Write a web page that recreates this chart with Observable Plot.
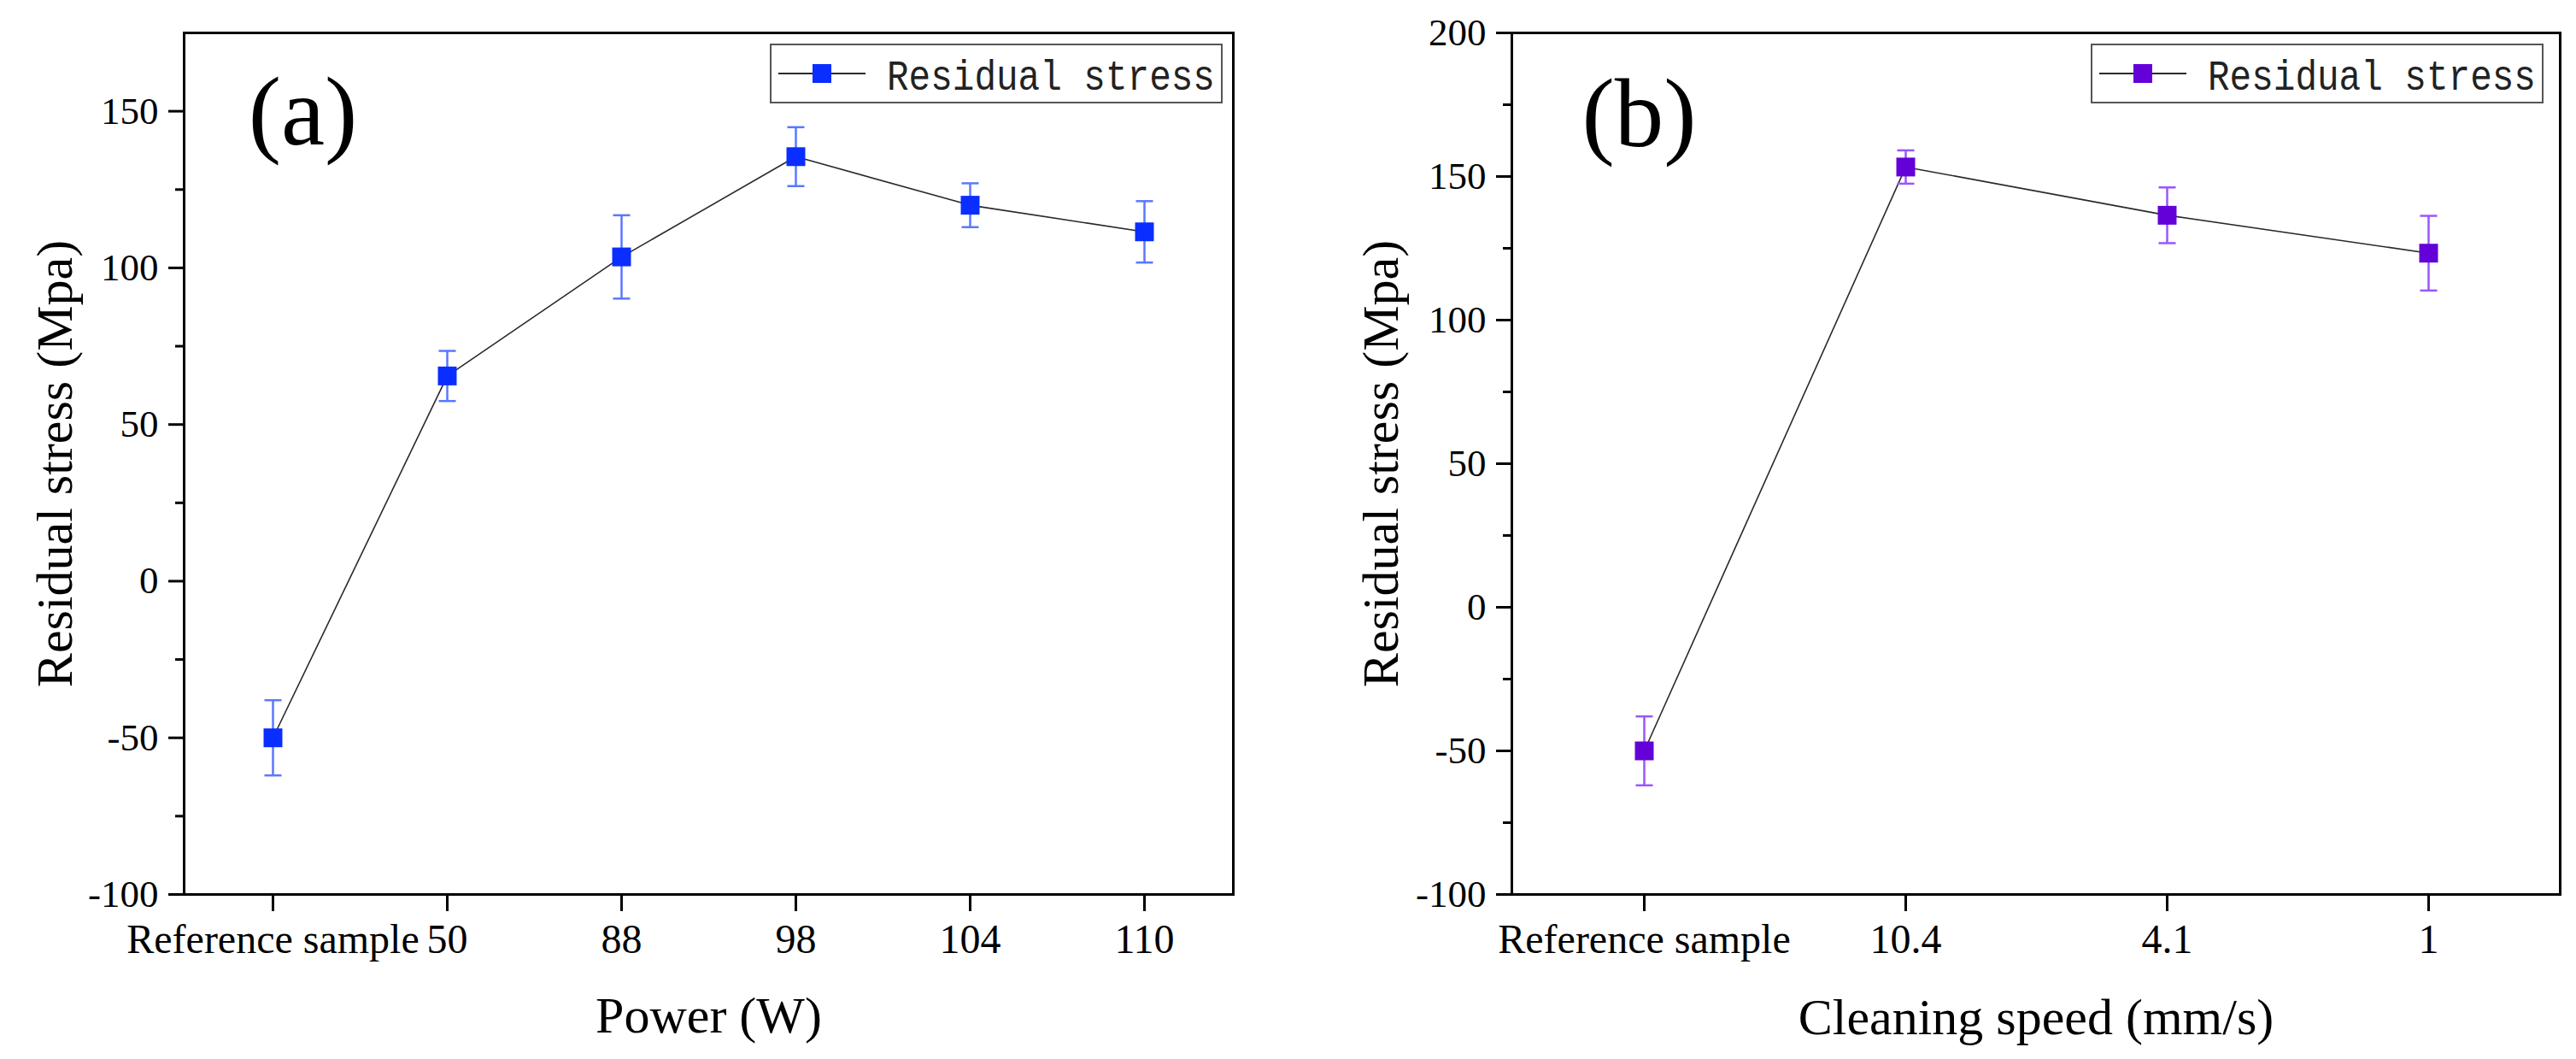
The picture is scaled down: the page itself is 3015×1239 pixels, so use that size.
<!DOCTYPE html>
<html><head><meta charset="utf-8">
<script src="https://cdn.jsdelivr.net/npm/d3@7"></script>
<script src="https://cdn.jsdelivr.net/npm/@observablehq/plot@0.6"></script>
<style>
body{margin:0;background:#fff;}
#wrap{position:relative;width:3015px;height:1239px;background:#fff;overflow:hidden;}
#wrap svg{position:absolute;top:0;}
</style></head><body><div id="wrap"></div>
<script>
// Panel (a): Power
const powerLabels = ["Reference sample", "50", "88", "98", "104", "110"];
const powerStress = [-50, 65.5, 103.5, 135.5, 120, 111.5];
const powerError  = [12, 8, 13.3, 9.4, 7, 9.8];
const powerYTicks = [-100, -50, 0, 50, 100, 150];
const powerYMinor = [-75, -25, 25, 75, 125];

// Panel (b): Cleaning speed
const speedLabels = ["Reference sample", "10.4", "4.1", "1"];
const speedStress = [-50, 153.3, 136.5, 123.3];
const speedError  = [12, 5.8, 9.7, 13];
const speedYTicks = [-100, -50, 0, 50, 100, 150, 200];
const speedYMinor = [-75, -25, 25, 75, 125, 175];

const yTitle = "Residual stress (Mpa)";
const legendText = "Residual stress";

const capSymbol = {
  draw(ctx, size) {
    const r = Math.sqrt(size / Math.PI);
    ctx.moveTo(-r, 0);
    ctx.lineTo(r, 0);
  }
};

function panel(o) {
  const data = o.labels.map((c, i) => ({c, v: o.values[i], lo: o.values[i] - o.errors[i], hi: o.values[i] + o.errors[i]}));
  const mt = 38, mb = 193, H = 1239;
  const chart = Plot.plot({
    width: o.width, height: H,
    marginLeft: o.ml, marginRight: o.mr, marginTop: mt, marginBottom: mb,
    style: {fontFamily: "Liberation Serif", background: "transparent", color: "#000", overflow: "visible"},
    x: {type: "point", domain: o.labels, padding: 0.5},
    y: {domain: o.yDomain},
    marks: [
      Plot.axisY(o.yTicks, {tickSize: 18, tickPadding: 12, strokeWidth: 3, fontSize: 45, label: null, tickFormat: d => String(d)}),
      Plot.axisY(o.yMinor, {tickSize: 10, strokeWidth: 3, tickFormat: () => "", label: null}),
      Plot.axisX({tickSize: 20, tickPadding: 14, strokeWidth: 3, fontSize: 48, label: null}),
      Plot.frame({stroke: "#000", strokeWidth: 3}),
      Plot.line(data, {x: "c", y: "v", stroke: "#2a2a2a", strokeWidth: 1.6}),
      Plot.ruleX(data, {x: "c", y1: "lo", y2: "hi", stroke: o.errColor, strokeWidth: 2.5}),
      Plot.dot(data, {x: "c", y: "lo", symbol: capSymbol, r: 10, fill: "none", stroke: o.errColor, strokeWidth: 2.5}),
      Plot.dot(data, {x: "c", y: "hi", symbol: capSymbol, r: 10, fill: "none", stroke: o.errColor, strokeWidth: 2.5}),
      Plot.dot(data, {x: "c", y: "v", symbol: "square", r: 12.4, fill: o.color, stroke: "none"}),
      Plot.text([o.xTitle], {frameAnchor: "bottom", dy: o.xTitleDy, text: d => d, fontSize: 60, lineAnchor: "bottom", textAnchor: "middle"}),
      Plot.text([yTitle], {frameAnchor: "left", dx: o.yTitleX - o.ml, rotate: -90, fontSize: 60, lineAnchor: "middle", textAnchor: "middle", text: d => d}),
      Plot.text([o.tag], {frameAnchor: "top-left", dx: o.tagX - o.ml, dy: o.tagBase - mt, fontSize: 115, lineAnchor: "bottom", textAnchor: "middle", text: d => d})
    ]
  });
  chart.style.left = o.left + "px";
  document.getElementById("wrap").appendChild(chart);
  // legend
  const svg = d3.select(chart);
  const g = svg.append("g").attr("text-anchor", "start");
  const L = o.legend;
  g.append("rect").attr("x", L.x0).attr("y", 52).attr("width", L.x1 - L.x0).attr("height", 68)
    .attr("fill", "#fff").attr("stroke", "#555").attr("stroke-width", 2);
  g.append("line").attr("x1", L.x0 + 9).attr("x2", L.x0 + 111).attr("y1", 86).attr("y2", 86)
    .attr("stroke", "#2a2a2a").attr("stroke-width", 2);
  g.append("rect").attr("x", L.x0 + 60 - 11).attr("y", 86 - 11).attr("width", 22).attr("height", 22).attr("fill", o.color);
  const t = g.append("text").attr("x", 0).attr("y", 0).attr("text-anchor", "start").attr("font-family", "Liberation Mono")
    .attr("font-size", 50).attr("fill", "#222").text(legendText);
  const w = t.node().getComputedTextLength() || 450;
  t.attr("transform", `translate(${L.x0 + 136},105) scale(${384 / w},1)`);
}

panel({
  labels: powerLabels, values: powerStress, errors: powerError,
  yDomain: [-100, 175], yTicks: powerYTicks, yMinor: powerYMinor,
  xTitle: "Power (W)", tag: "(a)", color: "#0a2eff", errColor: "#5a78ff",
  width: 1500, ml: 215, mr: 57, left: 0,
  xTitleDy: 161, yTitleX: 64, tagX: 354, tagBase: 168,
  legend: {x0: 902, x1: 1430}
});
panel({
  labels: speedLabels, values: speedStress, errors: speedError,
  yDomain: [-100, 200], yTicks: speedYTicks, yMinor: speedYMinor,
  xTitle: "Cleaning speed (mm/s)", tag: "(b)", color: "#6400d8", errColor: "#9a55ff",
  width: 1515, ml: 269, mr: 19, left: 1500,
  xTitleDy: 163, yTitleX: 116, tagX: 418, tagBase: 170,
  legend: {x0: 948, x1: 1476}
});
</script></body></html>
